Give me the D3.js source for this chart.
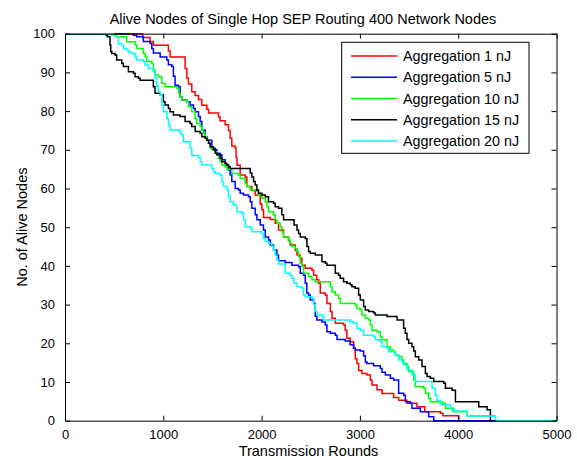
<!DOCTYPE html>
<html>
<head>
<meta charset="utf-8">
<script src="https://cdn.jsdelivr.net/npm/d3@7"></script>
<style>
  html, body { margin: 0; padding: 0; background: #fff; }
  svg { display: block; }
  text { font-family: "Liberation Sans", Arial, Helvetica, sans-serif; fill: #000; }
</style>
</head>
<body>
<svg id="chart" width="577" height="462"></svg>
<script>
// ---------------- data ----------------
const seriesNames = ["Aggregation 1 nJ", "Aggregation 5 nJ", "Aggregation 10 nJ", "Aggregation 15 nJ", "Aggregation 20 nJ"];
const seriesColors = ["#ff0000", "#0000ff", "#00ff00", "#000000", "#00ffff"];
const xTicks = [0, 1000, 2000, 3000, 4000, 5000];
const yTicks = [0, 10, 20, 30, 40, 50, 60, 70, 80, 90, 100];

// Aggregation 1 nJ (red): round at which the count drops, and new alive count
const roundsRed = [0, 790, 866, 899, 1052, 1069, 1222, 1240, 1256, 1290, 1324, 1358, 1392, 1443, 1460, 1562, 1578, 1629, 1663, 1680, 1697, 1731, 1740, 1750, 1782, 1833, 1850, 1901, 1935, 1986, 2003, 2019, 2088, 2138, 2172, 2223, 2274, 2291, 2342, 2360, 2393, 2410, 2444, 2512, 2529, 2560, 2580, 2597, 2648, 2665, 2699, 2716, 2750, 2834, 2851, 2868, 2902, 2936, 2953, 2970, 2987, 3021, 3072, 3106, 3123, 3174, 3225, 3343, 3394, 3479, 3580, 3660, 3819, 3845, 4005, 5000];
const aliveRed  = [100, 99, 98, 97, 95.5, 94, 91, 88.5, 87, 85, 84, 83, 81.5, 80.5, 79.5, 78.5, 77.5, 76.5, 75, 73, 71, 70.5, 68, 66, 63.5, 63, 60.5, 59.5, 58.3, 56, 54.5, 52.5, 52, 51, 49.3, 47.5, 46.5, 45.4, 44, 42.8, 42, 40.2, 39.4, 38.9, 37.6, 36.5, 35.5, 33, 32.5, 30.3, 28.2, 26.5, 25.2, 24.7, 23.4, 21.3, 20.4, 18.7, 16, 14.8, 13, 12.2, 11.8, 10.5, 9.2, 8, 7, 6, 5.3, 4.5, 3.6, 2.3, 1.9, 1.3, 0, 0];

// Aggregation 5 nJ (blue)
const roundsBlue = [0, 696, 730, 797, 866, 883, 899, 968, 1036, 1052, 1086, 1103, 1120, 1154, 1171, 1188, 1239, 1273, 1307, 1324, 1358, 1375, 1392, 1426, 1443, 1494, 1528, 1545, 1578, 1596, 1629, 1663, 1680, 1697, 1731, 1765, 1782, 1816, 1867, 1884, 1901, 1935, 1952, 1986, 2019, 2037, 2070, 2088, 2121, 2155, 2172, 2240, 2308, 2376, 2393, 2427, 2444, 2460, 2478, 2495, 2529, 2546, 2563, 2614, 2648, 2665, 2699, 2750, 2767, 2851, 2900, 2936, 2953, 3004, 3038, 3055, 3072, 3140, 3208, 3225, 3259, 3310, 3343, 3394, 3445, 3462, 3513, 3530, 3615, 3700, 3751, 5000];
const aliveBlue  = [100, 99.6, 99.2, 98, 97.5, 96.2, 95, 94, 93.2, 92, 91.5, 89, 86.7, 86.3, 83.7, 82.9, 82.4, 81.6, 80.7, 79.8, 78.6, 77.3, 75.1, 73.4, 72.5, 70.4, 70, 69.1, 68.7, 67.4, 66.1, 64.8, 63.5, 61.8, 60, 59.6, 58.8, 58.3, 57.9, 56.6, 54.9, 53.2, 51.9, 50.6, 49.3, 47.5, 46.7, 45.4, 44.1, 42.8, 41.3, 40.9, 40.2, 39.8, 38.1, 37.6, 35.5, 33, 32.5, 31.2, 30.3, 27, 26, 25.5, 24.7, 23, 22.6, 22.1, 21, 20.6, 19.6, 18.7, 18.3, 18, 16.8, 15.2, 14.8, 14.2, 13.5, 12.5, 11.8, 11, 10.5, 7.1, 6.6, 4.9, 4.5, 3.2, 2.3, 1, 0, 0];

// Aggregation 10 nJ (green)
const roundsGreen = [0, 492, 526, 628, 713, 730, 797, 815, 832, 883, 899, 916, 950, 985, 1018, 1137, 1154, 1171, 1188, 1239, 1256, 1290, 1324, 1341, 1375, 1392, 1409, 1426, 1443, 1460, 1477, 1494, 1528, 1545, 1562, 1578, 1596, 1629, 1646, 1697, 1765, 1782, 1833, 1850, 1884, 1952, 1969, 2003, 2037, 2054, 2070, 2121, 2138, 2155, 2189, 2206, 2223, 2274, 2291, 2308, 2342, 2360, 2376, 2393, 2410, 2427, 2478, 2512, 2546, 2699, 2716, 2750, 2783, 2800, 2953, 2970, 3004, 3021, 3055, 3089, 3106, 3123, 3174, 3208, 3225, 3276, 3310, 3343, 3361, 3394, 3428, 3445, 3479, 3496, 3547, 3564, 3649, 3666, 3700, 3717, 3836, 3870, 3955, 4090, 4379, 5000];
const aliveGreen  = [100, 99.7, 99.2, 97.9, 97.1, 96.2, 94.9, 94, 92.8, 92.3, 90.6, 89.3, 88.9, 87.2, 86.3, 85.9, 84.6, 83.7, 82.9, 82.4, 81.1, 79.8, 78.1, 76.8, 76, 75.1, 74.3, 73.4, 72.5, 71.7, 70.4, 70, 69.5, 68.7, 67.8, 67, 66.1, 65.6, 65, 63.9, 63.5, 62.6, 61.3, 60.5, 59.6, 59.2, 58.3, 57.5, 56.6, 55.3, 54, 53.2, 51.9, 51, 50.1, 48.8, 47.5, 46.7, 45.8, 45, 44.5, 43.7, 42.4, 40.7, 40, 38.1, 37.2, 36.4, 35.9, 34.6, 33.3, 32.5, 31.6, 30.3, 29.9, 29, 28.6, 27.3, 26.5, 26, 24.7, 23.4, 23, 21.7, 20.9, 19.1, 18.3, 17.8, 17, 16.5, 15.7, 14.8, 14, 12.7, 10.5, 8.8, 8.4, 7.1, 5.8, 4.9, 4.5, 3.2, 2.3, 1.2, 0, 0];

// Aggregation 15 nJ (black)
const roundsBlack = [0, 418, 431, 458, 465, 476, 509, 526, 577, 594, 645, 696, 713, 747, 764, 899, 916, 968, 1001, 1018, 1052, 1069, 1103, 1171, 1222, 1273, 1290, 1324, 1375, 1392, 1426, 1443, 1460, 1477, 1510, 1528, 1545, 1578, 1596, 1629, 1646, 1663, 1680, 1884, 1901, 1918, 1935, 1952, 1969, 2003, 2037, 2070, 2121, 2138, 2172, 2206, 2223, 2330, 2360, 2376, 2393, 2444, 2461, 2478, 2495, 2546, 2614, 2648, 2665, 2750, 2783, 2800, 2834, 2868, 2902, 2919, 2953, 2987, 3004, 3038, 3055, 3089, 3140, 3157, 3276, 3378, 3445, 3462, 3479, 3496, 3530, 3547, 3564, 3598, 3632, 3666, 3683, 3717, 3751, 3853, 3870, 3938, 3972, 4209, 4294, 4328, 5000];
const aliveBlack  = [100, 99.6, 99.2, 97.1, 95.4, 94.9, 94.5, 93.2, 92.3, 91.5, 90.2, 89.8, 88.9, 88.5, 88, 86.3, 84.6, 84.2, 82.4, 81.6, 80.7, 79.8, 79, 78.6, 77.3, 76.8, 76, 74.7, 74.3, 73.4, 73, 72.5, 71.7, 70.8, 70, 69.1, 68.7, 67.8, 66.9, 66.5, 66.1, 65.6, 65.2, 64, 63, 61.8, 60.9, 59.6, 58.8, 58.3, 57.9, 56.6, 56.2, 55.3, 54.9, 53.2, 51.9, 50.6, 49.3, 48.4, 47.5, 47.1, 45, 43.7, 43.3, 42.8, 41.1, 40.7, 40.2, 38.1, 37.6, 36.8, 35.9, 35.5, 35.1, 34.6, 34.2, 32.5, 31.2, 29.5, 28.6, 28.2, 27.8, 27.3, 26.9, 26, 23.9, 22.6, 21, 20, 19.1, 18, 16.5, 15.7, 14, 12.2, 11.4, 11, 10.1, 9.7, 8.4, 7.9, 4.9, 3.6, 2.8, 0, 0];

// Aggregation 20 nJ (cyan)
const roundsCyan = [0, 475, 509, 543, 577, 594, 628, 645, 679, 713, 730, 797, 815, 848, 899, 916, 933, 950, 968, 985, 1001, 1036, 1052, 1069, 1171, 1188, 1205, 1273, 1290, 1358, 1375, 1392, 1494, 1510, 1528, 1578, 1596, 1613, 1646, 1663, 1680, 1714, 1748, 1799, 1816, 1833, 1884, 1901, 2003, 2019, 2037, 2070, 2104, 2121, 2138, 2155, 2172, 2240, 2291, 2308, 2330, 2359, 2410, 2427, 2444, 2512, 2530, 2546, 2563, 2614, 2631, 2902, 2936, 2970, 3004, 3038, 3140, 3157, 3208, 3225, 3276, 3293, 3361, 3394, 3428, 3445, 3479, 3530, 3564, 3734, 3768, 3785, 3819, 3921, 3938, 4090, 4379, 5000];
const aliveCyan  = [100, 99.6, 99.2, 97.5, 97.1, 96.2, 95.8, 95.3, 94.9, 94, 93.2, 92.8, 91.9, 91, 90.2, 88.5, 86.5, 85, 84.2, 81.6, 79.8, 78.1, 76.4, 75.1, 74.3, 73.8, 72.1, 70.4, 68.5, 68, 66.9, 66.1, 65.2, 64.3, 63.9, 63.5, 61.8, 60.5, 59.6, 57.9, 56.6, 55.7, 54, 53.6, 51.9, 50.1, 49.7, 48.8, 48.4, 47.1, 46.3, 45.8, 45, 44.1, 42.8, 41.5, 40.5, 38.1, 37.6, 36.8, 35.5, 34.6, 34.2, 32.5, 32, 31.6, 30, 28.2, 27.3, 26.9, 26, 25.6, 25.2, 23.9, 23.4, 22.1, 21.7, 20.9, 20.4, 19.1, 18.7, 17.8, 17, 15.7, 15.2, 14.4, 13.1, 11.8, 10.1, 8.4, 6.6, 5.3, 4.1, 3.2, 2.5, 1.2, 0, 0];

const seriesRounds = [roundsRed, roundsBlue, roundsGreen, roundsBlack, roundsCyan];
const seriesAlive  = [aliveRed, aliveBlue, aliveGreen, aliveBlack, aliveCyan];

// ---------------- layout ----------------
const svg = d3.select("#chart");
const plot = { left: 65, right: 556.5, top: 33.7, bottom: 420.7 };

const x = d3.scaleLinear().domain([0, 5000]).range([plot.left, plot.right]);
const y = d3.scaleLinear().domain([0, 100]).range([plot.bottom, plot.top]);

svg.append("rect").attr("x", 0).attr("y", 0).attr("width", 577).attr("height", 462).attr("fill", "#fff");

// clip
svg.append("clipPath").attr("id", "clip")
  .append("rect").attr("x", plot.left).attr("y", plot.top - 1)
  .attr("width", plot.right - plot.left).attr("height", plot.bottom - plot.top + 2);

// series lines
const line = d3.line()
  .x(d => x(d[0]))
  .y(d => y(d[1]))
  .curve(d3.curveStepAfter);

const gLines = svg.append("g").attr("clip-path", "url(#clip)");
seriesNames.forEach((name, i) => {
  const pts = seriesRounds[i].map((r, k) => [r, seriesAlive[i][k]]);
  gLines.append("path")
    .datum(pts)
    .attr("fill", "none")
    .attr("stroke", seriesColors[i])
    .attr("stroke-width", 1.5)
    .attr("d", line);
});

// axes (MATLAB style: ticks inside, box on)
const tickLen = 5;
const fontSize = 13;

const axB = d3.axisBottom(x).tickValues(xTicks).tickSizeInner(-tickLen).tickSizeOuter(0).tickPadding(9).tickFormat(d3.format("d"));
const axT = d3.axisTop(x).tickValues(xTicks).tickSizeInner(-tickLen).tickSizeOuter(0).tickFormat("");
const axL = d3.axisLeft(y).tickValues(yTicks).tickSizeInner(-tickLen).tickSizeOuter(0).tickPadding(10).tickFormat(d3.format("d"));
const axR = d3.axisRight(y).tickValues(yTicks).tickSizeInner(-tickLen).tickSizeOuter(0).tickFormat("");

function styleAxis(g) {
  g.selectAll(".domain").attr("stroke", "#000").attr("stroke-width", 1);
  g.selectAll(".tick line").attr("stroke", "#000").attr("stroke-width", 1);
  g.selectAll("text").attr("font-size", fontSize).attr("font-family", "Liberation Sans, Arial, sans-serif").attr("fill", "#000");
}

svg.append("g").attr("transform", `translate(0,${plot.bottom})`).call(axB).call(styleAxis);
svg.append("g").attr("transform", `translate(0,${plot.top})`).call(axT).call(styleAxis);
svg.append("g").attr("transform", `translate(${plot.left},0)`).call(axL).call(styleAxis);
svg.append("g").attr("transform", `translate(${plot.right},0)`).call(axR).call(styleAxis);

// title and axis labels
svg.append("text")
  .attr("x", 303).attr("y", 24)
  .attr("text-anchor", "middle").attr("font-size", 14.5)
  .text("Alive Nodes of Single Hop SEP Routing 400 Network Nodes");

svg.append("text")
  .attr("x", 308.5).attr("y", 456)
  .attr("text-anchor", "middle").attr("font-size", 14.5)
  .text("Transmission Rounds");

svg.append("text")
  .attr("transform", `translate(27,${(plot.top + plot.bottom) / 2}) rotate(-90)`)
  .attr("text-anchor", "middle").attr("font-size", 14.5)
  .text("No. of Alive Nodes");

// legend
const leg = svg.append("g");
leg.append("rect")
  .attr("x", 341.7).attr("y", 42.3).attr("width", 187.3).attr("height", 111)
  .attr("fill", "#fff").attr("stroke", "#000").attr("stroke-width", 1);

const rowY = d3.scaleLinear().domain([0, seriesNames.length - 1]).range([56, 141]);
seriesNames.forEach((name, i) => {
  leg.append("line")
    .attr("x1", 351).attr("x2", 397)
    .attr("y1", rowY(i)).attr("y2", rowY(i))
    .attr("stroke", seriesColors[i]).attr("stroke-width", 1.5);
  leg.append("text")
    .attr("x", 403).attr("y", rowY(i))
    .attr("dy", "0.36em")
    .attr("font-size", 14.3)
    .text(name);
});
</script>
</body>
</html>
